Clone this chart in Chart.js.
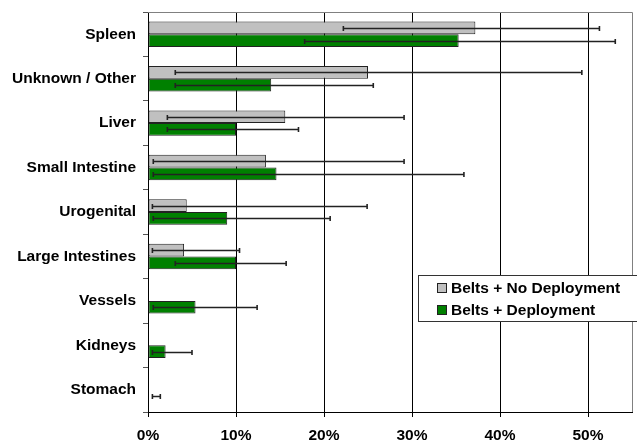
<!DOCTYPE html>
<html>
<head>
<meta charset="utf-8">
<script src="https://cdn.jsdelivr.net/npm/chart.js@4/dist/chart.umd.min.js"></script>
<style>
  html, body { margin: 0; padding: 0; background: #ffffff; }
  #wrap { width: 637px; height: 442px; }
</style>
</head>
<body>
<div id="wrap"><canvas id="c" width="637" height="442"></canvas></div>
<script>
// Injured organ categories (top to bottom)
const organs = ['Spleen', 'Unknown / Other', 'Liver', 'Small Intestine', 'Urogenital',
                'Large Intestines', 'Vessels', 'Kidneys', 'Stomach'];

// Share of injuries (%), per restraint condition
const noDeployment = [37.2, 25.0, 15.6, 13.4, 4.4, 4.1, 0, 0, 0];
const deployment   = [35.3, 14.0, 10.0, 14.6, 9.0, 10.0, 5.4, 2.0, 0];

// Confidence interval bounds (%)
const noDeploymentLow  = [22.2, 3.1, 2.2, 0.6, 0.5, 0.5, null, null, null];
const noDeploymentHigh = [51.3, 49.3, 29.1, 29.1, 24.9, 10.4, null, null, null];
const deploymentLow    = [17.8, 3.1, 2.2, 0.6, 0.6, 3.1, 0.6, 0.5, 0.5];
const deploymentHigh   = [53.1, 25.6, 17.1, 35.9, 20.7, 15.7, 12.4, 5.0, 1.4];

// Axis tick values (%)
const xTicks = [0, 10, 20, 30, 40, 50];
const xMax = 55;

const FONT = 'bold 15.5px "Liberation Sans", Arial, sans-serif';

// Interval whiskers drawn through the value scale
const errorBars = {
  id: 'errorBars',
  afterDatasetsDraw(chart) {
    const ctx = chart.ctx;
    const xs = chart.scales.x;
    chart.data.datasets.forEach((ds, i) => {
      const meta = chart.getDatasetMeta(i);
      meta.data.forEach((bar, j) => {
        const lo = ds.errLow[j], hi = ds.errHigh[j];
        if (lo == null || hi == null) return;
        const y = Math.round(bar.y) + 0.5;
        const x1 = xs.getPixelForValue(lo), x2 = xs.getPixelForValue(hi);
        ctx.save();
        ctx.strokeStyle = '#222222';
        ctx.lineWidth = 1.6;
        ctx.beginPath();
        ctx.moveTo(x1, y); ctx.lineTo(x2, y);
        ctx.moveTo(x1, y - 2.5); ctx.lineTo(x1, y + 2.5);
        ctx.moveTo(x2, y - 2.5); ctx.lineTo(x2, y + 2.5);
        ctx.stroke();
        ctx.restore();
      });
    });
  }
};

// Light frame on the top and right of the plot, plus the boxed legend
const frameAndLegend = {
  id: 'frameAndLegend',
  afterDraw(chart) {
    const ctx = chart.ctx;
    const a = chart.chartArea;
    ctx.save();
    ctx.strokeStyle = '#808080';
    ctx.lineWidth = 1;
    ctx.beginPath();
    ctx.moveTo(a.left, Math.round(a.top) + 0.5);
    ctx.lineTo(Math.round(a.right) + 0.5, Math.round(a.top) + 0.5);
    ctx.lineTo(Math.round(a.right) + 0.5, a.bottom);
    ctx.stroke();

    // legend box
    const bx = 418.5, by = 275.5, bw = 240, bh = 46;
    ctx.fillStyle = '#ffffff';
    ctx.fillRect(bx, by, bw, bh);
    ctx.strokeStyle = '#333333';
    ctx.strokeRect(bx, by, bw, bh);

    ctx.font = FONT;
    ctx.textBaseline = 'middle';
    ctx.textAlign = 'left';
    chart.data.datasets.forEach((ds, i) => {
      const cy = 288 + i * 22;
      ctx.fillStyle = ds.backgroundColor;
      ctx.fillRect(437.5, cy - 4.5, 9, 9);
      ctx.strokeStyle = '#222222';
      ctx.strokeRect(437.5, cy - 4.5, 9, 9);
      ctx.fillStyle = '#000000';
      ctx.fillText(ds.label, 451, cy + 0.5);
    });
    ctx.restore();
  }
};

new Chart(document.getElementById('c'), {
  type: 'bar',
  data: {
    labels: organs,
    datasets: [
      {
        label: 'Belts + No Deployment',
        data: noDeployment,
        errLow: noDeploymentLow,
        errHigh: noDeploymentHigh,
        backgroundColor: '#c0c0c0',
        borderColor: '#222222',
        borderWidth: 1,
        borderSkipped: false
      },
      {
        label: 'Belts + Deployment',
        data: deployment,
        errLow: deploymentLow,
        errHigh: deploymentHigh,
        backgroundColor: '#008000',
        borderColor: '#222222',
        borderWidth: 1,
        borderSkipped: false
      }
    ]
  },
  options: {
    indexAxis: 'y',
    responsive: false,
    animation: false,
    devicePixelRatio: 1,
    categoryPercentage: 0.572,
    barPercentage: 1,
    layout: { padding: { top: 12, right: 5, left: 0, bottom: 0 } },
    plugins: {
      legend: { display: false },
      tooltip: { enabled: false }
    },
    scales: {
      x: {
        min: 0,
        max: xMax,
        afterBuildTicks(scale) { scale.ticks = xTicks.map(v => ({ value: v })); },
        afterFit(scale) { scale.height = 30; scale.paddingLeft = 0; scale.paddingRight = 0; },
        ticks: {
          callback: v => v + '%',
          color: '#000000',
          font: { family: '"Liberation Sans", Arial, sans-serif', size: 15.5, weight: 'bold' },
          padding: 9,
          maxRotation: 0
        },
        grid: { color: '#000000', lineWidth: 1, tickLength: 5, drawTicks: true },
        border: { color: '#000000', width: 1 }
      },
      y: {
        afterFit(scale) { scale.width = 148; scale.paddingTop = 0; scale.paddingBottom = 0; },
        ticks: {
          color: '#000000',
          font: { family: '"Liberation Sans", Arial, sans-serif', size: 15.5, weight: 'bold' },
          padding: 7
        },
        grid: { offset: true, drawOnChartArea: false, color: '#555555', tickLength: 5 },
        border: { color: '#000000', width: 1 }
      }
    }
  },
  plugins: [errorBars, frameAndLegend]
});
</script>
</body>
</html>
